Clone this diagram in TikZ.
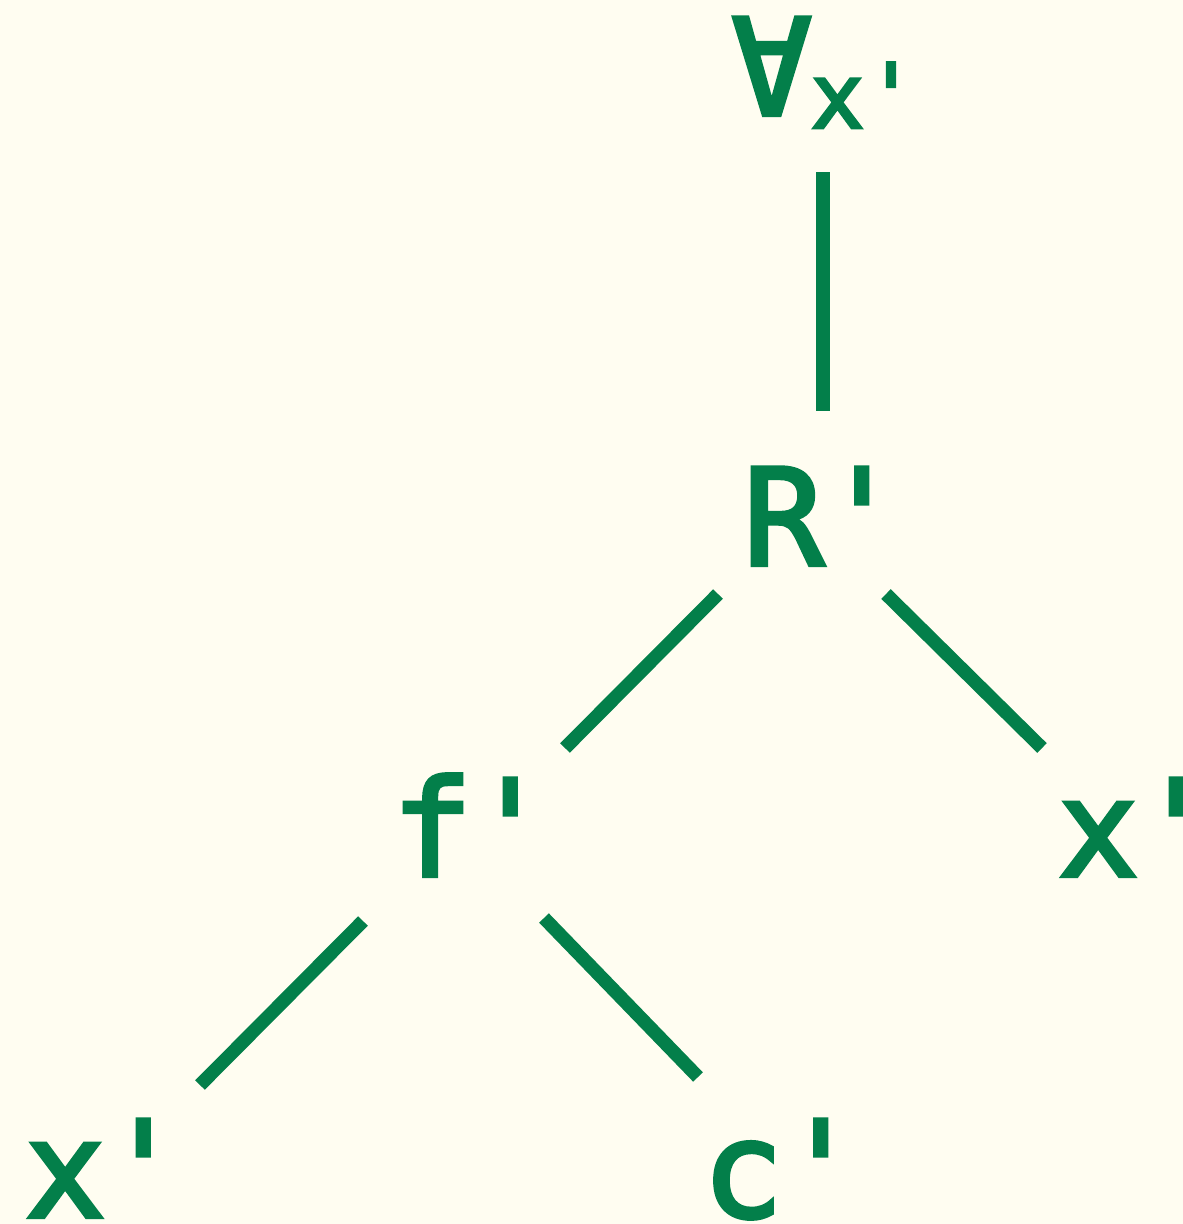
\documentclass[tikz,border=0pt]{standalone}
\usepackage{fontspec}
\newfontfamily\mono[FakeBold=3]{DejaVu Sans Mono}
\definecolor{tgreen}{HTML}{037F4A}
\definecolor{bg}{HTML}{FFFDF1}
\tikzset{
  lab/.style={inner sep=0pt, anchor=base west, text=tgreen, font=\mono\fontsize{134}{134}\selectfont},
  edge/.style={draw=tgreen, line width=13.5pt},
}
\newcommand{\cell}[1]{\makebox[78pt][c]{#1}}
\newcommand{\subcell}[1]{\makebox[53.5pt][c]{#1}}
\begin{document}
\begin{tikzpicture}[x=1pt,y=-1pt]
\fill[bg] (0,0) rectangle (1183,1224);
\useasboundingbox (0,0) rectangle (1183,1224);
\node[lab] (all) at (732.5,115) {\cell{∀}\raisebox{-13pt}{\fontsize{90}{90}\selectfont\subcell{x}\subcell{\char"27}}};
\node[lab] (R) at (744.5,565) {\cell{R}\cell{\char"27}};
\node[lab] (f) at (393,876) {\cell{f}\cell{\char"27}};
\node[lab] (x1) at (1059,876) {\cell{x}\cell{\char"27}};
\node[lab] (x2) at (26,1217) {\cell{x}\cell{\char"27}};
\node[lab] (c) at (703.5,1217) {\cell{c}\cell{\char"27}};
\draw[edge] ([shift={(90.5,57)}]all.base west) -- ([shift={(78.5,-154)}]R.base west);
\draw[edge] ([shift={(-26.5,29)}]R.base west) -- ([shift={(172,-128)}]f.base west);
\draw[edge] ([shift={(141.5,29)}]R.base west) -- ([shift={(-17,-128)}]x1.base west);
\draw[edge] ([shift={(-30,45)}]f.base west) -- ([shift={(174,-132)}]x2.base west);
\draw[edge] ([shift={(151,42)}]f.base west) -- ([shift={(-5.5,-140)}]c.base west);
\end{tikzpicture}
\end{document}
